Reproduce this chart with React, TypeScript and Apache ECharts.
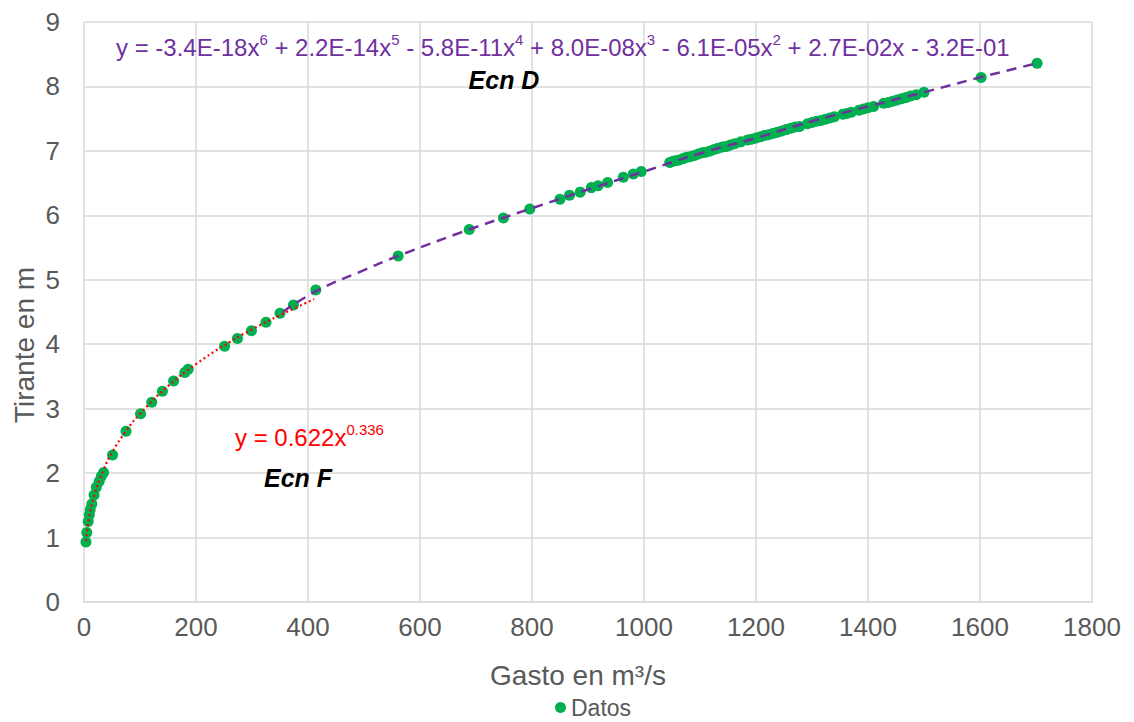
import React, { useEffect, useRef } from "react";
import * as echarts from "echarts";

// Observed data (Gasto m³/s, Tirante m)
const gasto: number[] = [
  3.5, 5, 7.5, 9.5, 11, 14, 18, 22, 27, 31, 35, 51, 75, 101, 121, 140, 160, 180, 186,
  251, 274, 299, 325, 350, 374, 414,
  561, 688, 749, 796, 850, 867, 886, 906, 918, 935, 963, 981, 995,
  1046, 1052, 1058, 1063, 1070, 1076, 1082, 1090, 1097, 1104, 1110, 1118, 1125, 1132,
  1140, 1147, 1154, 1162, 1173, 1185, 1192, 1200, 1208, 1215, 1222, 1230, 1238, 1246,
  1254, 1262, 1270, 1278, 1292, 1300, 1308, 1316, 1324, 1332, 1340, 1355, 1362, 1370,
  1384, 1392, 1400, 1410, 1428, 1436, 1444, 1452, 1460, 1468, 1476, 1486, 1500,
  1602, 1702,
];
const tirante: number[] = [
  0.93, 1.08, 1.25, 1.35, 1.43, 1.52, 1.66, 1.78, 1.87, 1.95, 2.01, 2.28, 2.65, 2.92, 3.1, 3.27, 3.43, 3.56, 3.61,
  3.97, 4.09, 4.21, 4.34, 4.48, 4.61, 4.84,
  5.37, 5.78, 5.96, 6.1, 6.25, 6.31, 6.36, 6.43, 6.46, 6.51, 6.59, 6.64, 6.68,
  6.82, 6.84, 6.85, 6.86, 6.88, 6.9, 6.91, 6.93, 6.95, 6.97, 6.98, 7.0, 7.02, 7.04,
  7.06, 7.07, 7.09, 7.11, 7.14, 7.17, 7.18, 7.2, 7.22, 7.24, 7.25, 7.27, 7.29, 7.31,
  7.33, 7.35, 7.37, 7.38, 7.42, 7.44, 7.46, 7.47, 7.49, 7.51, 7.53, 7.57, 7.58, 7.6,
  7.63, 7.65, 7.67, 7.69, 7.74, 7.75, 7.77, 7.79, 7.81, 7.83, 7.85, 7.87, 7.91,
  8.14, 8.36,
];

// Trend line "Ecn F" (power)
const powerX: number[] = [3.5, 10, 20, 35, 50, 75, 100, 150, 200, 250, 300, 350, 411];
const powerY: number[] = [0.947, 1.35, 1.7, 2.05, 2.32, 2.65, 2.92, 3.35, 3.69, 3.98, 4.23, 4.45, 4.7];

// Trend line "Ecn D" (polynomial)
const polyX: number[] = [355, 414, 500, 561, 688, 800, 900, 1000, 1100, 1200, 1300, 1400, 1500, 1600, 1702];
const polyY: number[] = [4.5, 4.82, 5.15, 5.37, 5.78, 6.11, 6.4, 6.68, 6.96, 7.2, 7.46, 7.69, 7.91, 8.14, 8.36];

const xTicks = { min: 0, max: 1800, interval: 200 };
const yTicks = { min: 0, max: 9, interval: 1 };

const FONT = "'Liberation Sans', Arial, sans-serif";
const GRAY = "#595959";

export default function App() {
  const ref = useRef<HTMLDivElement>(null);
  useEffect(() => {
    document.body.style.margin = "0";
    if (!ref.current) return;
    const chart = echarts.init(ref.current, undefined, { renderer: "svg" });
    const datos = gasto.map((g, i) => [g, tirante[i]]);
    const power = powerX.map((x, i) => [x, powerY[i]]);
    const poly = polyX.map((x, i) => [x, polyY[i]]);

    const purpleEq =
      "{n|y = -3.4E-18x}{s|6}{n| + 2.2E-14x}{s|5}{n| - 5.8E-11x}{s|4}{n| + 8.0E-08x}{s|3}{n| - 6.1E-05x}{s|2}{n| + 2.7E-02x - 3.2E-01}";
    const redEq = "{n|y = 0.622x}{s|0.336}";

    chart.setOption({
      animation: false,
      textStyle: { fontFamily: FONT },
      grid: { left: 84, right: 42, top: 22, bottom: 120, containLabel: false },
      xAxis: {
        type: "value",
        min: xTicks.min,
        max: xTicks.max,
        interval: xTicks.interval,
        axisLine: { show: true, lineStyle: { color: "#D9D9D9", width: 1.5 } },
        axisTick: { show: false },
        splitLine: { show: true, lineStyle: { color: "#D9D9D9", width: 1.5 } },
        axisLabel: {
          color: GRAY,
          fontSize: 26,
          fontFamily: FONT,
          margin: 12,
          formatter: (v: number) => String(v),
        },
      },
      yAxis: {
        type: "value",
        min: yTicks.min,
        max: yTicks.max,
        interval: yTicks.interval,
        axisLine: { show: false },
        axisTick: { show: false },
        splitLine: { show: true, lineStyle: { color: "#D9D9D9", width: 1.5 } },
        axisLabel: { color: GRAY, fontSize: 26, fontFamily: FONT, margin: 24 },
      },
      legend: {
        data: ["Datos"],
        left: 555,
        top: 696,
        icon: "circle",
        itemWidth: 11,
        itemHeight: 11,
        itemGap: 5,
        padding: 0,
        textStyle: { color: GRAY, fontSize: 23, fontFamily: FONT },
      },
      series: [
        {
          name: "Datos",
          type: "scatter",
          data: datos,
          symbol: "circle",
          symbolSize: 11,
          itemStyle: { color: "#00B050", opacity: 1 },
          z: 2,
        },
        {
          name: "Ecn D",
          type: "line",
          data: poly,
          smooth: true,
          showSymbol: false,
          symbol: "none",
          lineStyle: { color: "#7030A0", width: 2.5, type: [10, 7] },
          z: 3,
        },
        {
          name: "Ecn F",
          type: "line",
          data: power,
          smooth: true,
          showSymbol: false,
          symbol: "none",
          lineStyle: { color: "#FF0000", width: 2.2, type: [2, 3] },
          z: 3,
        },
      ],
      graphic: [
        {
          type: "text",
          x: 116,
          y: 47,
          z: 10,
          style: {
            text: purpleEq,
            fill: "#7030A0",
            verticalAlign: "middle",
            align: "left",
            rich: {
              n: { fontSize: 24, lineHeight: 30, fontFamily: FONT, fill: "#7030A0" },
              s: { fontSize: 15, lineHeight: 22, verticalAlign: "top", fontFamily: FONT, fill: "#7030A0" },
            },
          },
        },
        {
          type: "text",
          x: 504,
          y: 80,
          z: 10,
          style: {
            text: "Ecn D",
            fill: "#000000",
            font: `italic bold 25px ${FONT}`,
            align: "center",
            verticalAlign: "middle",
          },
        },
        {
          type: "text",
          x: 235,
          y: 437,
          z: 10,
          style: {
            text: redEq,
            fill: "#FF0000",
            verticalAlign: "middle",
            align: "left",
            rich: {
              n: { fontSize: 24, lineHeight: 30, fontFamily: FONT, fill: "#FF0000" },
              s: { fontSize: 15, lineHeight: 22, verticalAlign: "top", fontFamily: FONT, fill: "#FF0000" },
            },
          },
        },
        {
          type: "text",
          x: 298,
          y: 478,
          z: 10,
          style: {
            text: "Ecn F",
            fill: "#000000",
            font: `italic bold 25px ${FONT}`,
            align: "center",
            verticalAlign: "middle",
          },
        },
        {
          type: "text",
          x: 578,
          y: 675,
          z: 10,
          style: {
            text: "Gasto en m³/s",
            fill: GRAY,
            font: `28px ${FONT}`,
            align: "center",
            verticalAlign: "middle",
          },
        },
        {
          type: "text",
          x: 24,
          y: 345,
          rotation: Math.PI / 2,
          z: 10,
          style: {
            text: "Tirante en m",
            fill: GRAY,
            font: `28px ${FONT}`,
            align: "center",
            verticalAlign: "middle",
          },
        },
      ],
    });
    return () => chart.dispose();
  }, []);
  return <div ref={ref} style={{ width: 1134, height: 722 }} />;
}
